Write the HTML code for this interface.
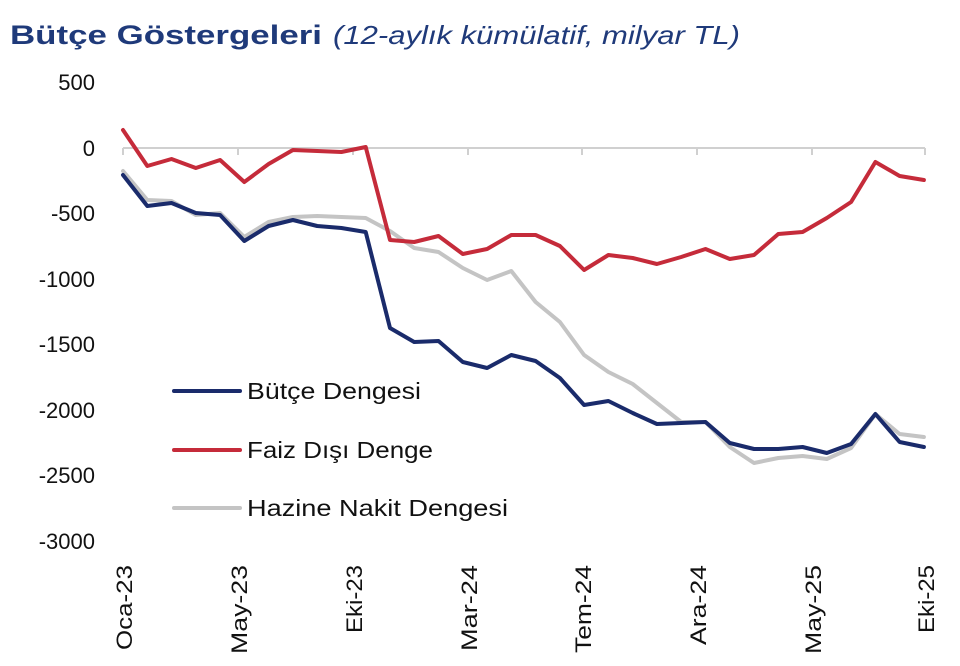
<!DOCTYPE html>
<html><head><meta charset="utf-8"><style>
body{margin:0;background:#fff;width:960px;height:661px;overflow:hidden;font-family:"Liberation Sans",sans-serif}
</style></head><body>
<svg width="960" height="661" xmlns="http://www.w3.org/2000/svg" font-family="Liberation Sans, sans-serif">
<text x="10" y="44" font-size="27" fill="#1f3a7a" font-weight="bold" textLength="312" lengthAdjust="spacingAndGlyphs">Bütçe Göstergeleri</text>
<text x="333" y="44" font-size="26" fill="#1f3a7a" font-style="italic" textLength="407" lengthAdjust="spacingAndGlyphs">(12-aylık kümülatif, milyar TL)</text>
<g font-size="22" fill="#111" text-anchor="end">
<text x="95" y="90">500</text><text x="95" y="156">0</text><text x="95" y="221">-500</text><text x="95" y="287">-1000</text><text x="95" y="352">-1500</text><text x="95" y="418">-2000</text><text x="95" y="483">-2500</text><text x="95" y="549">-3000</text>
</g>
<line x1="123" y1="148" x2="925" y2="148" stroke="#d0d0d0" stroke-width="2"/>
<g stroke="#d0d0d0" stroke-width="2">
<line x1="123" y1="148" x2="123" y2="155"/><line x1="238" y1="148" x2="238" y2="155"/><line x1="353" y1="148" x2="353" y2="155"/><line x1="468" y1="148" x2="468" y2="155"/><line x1="582" y1="148" x2="582" y2="155"/><line x1="697" y1="148" x2="697" y2="155"/><line x1="812" y1="148" x2="812" y2="155"/><line x1="925" y1="148" x2="925" y2="155"/>
</g>
<g font-size="22" fill="#111" text-anchor="end">
<text transform="translate(132,565) rotate(-90)" textLength="85" lengthAdjust="spacingAndGlyphs">Oca-23</text>
<text transform="translate(247,565) rotate(-90)" textLength="89" lengthAdjust="spacingAndGlyphs">May-23</text>
<text transform="translate(362,565) rotate(-90)" textLength="68" lengthAdjust="spacingAndGlyphs">Eki-23</text>
<text transform="translate(477,565) rotate(-90)" textLength="86" lengthAdjust="spacingAndGlyphs">Mar-24</text>
<text transform="translate(591,565) rotate(-90)" textLength="88" lengthAdjust="spacingAndGlyphs">Tem-24</text>
<text transform="translate(706,565) rotate(-90)" textLength="80" lengthAdjust="spacingAndGlyphs">Ara-24</text>
<text transform="translate(821,565) rotate(-90)" textLength="89" lengthAdjust="spacingAndGlyphs">May-25</text>
<text transform="translate(934,565) rotate(-90)" textLength="68" lengthAdjust="spacingAndGlyphs">Eki-25</text>
</g>
<g fill="none" stroke-width="4" stroke-linejoin="round" stroke-linecap="round">
<polyline id="g" stroke="#c4c4c4" points=""/>
<polyline id="n" stroke="#1a2b6b" points=""/>
<polyline id="r" stroke="#c52b3a" points=""/>
<line x1="174" y1="391" x2="240" y2="391" stroke="#1a2b6b"/>
<line x1="174" y1="450" x2="240" y2="450" stroke="#c52b3a"/>
<line x1="174" y1="508" x2="240" y2="508" stroke="#c4c4c4"/>
</g>
<g font-size="23" fill="#111">
<text x="247" y="399" textLength="174" lengthAdjust="spacingAndGlyphs">Bütçe Dengesi</text>
<text x="247" y="458" textLength="186" lengthAdjust="spacingAndGlyphs">Faiz Dışı Denge</text>
<text x="247" y="516" textLength="261" lengthAdjust="spacingAndGlyphs">Hazine Nakit Dengesi</text>
</g>
</svg>
<script>
var R=[130,166,159,168,160,182,164,150,151,152,147,240,242,236,254,249,235,235,246,270,255,258,264,257,249,259,255,234,232,218,202,162,176,180];
var N=[175,206,203,213,215,241,226,220,226,228,232,328,342,341,362,368,355,361,378,405,401,413,424,423,422,443,449,449,447,453,444,414,442,447];
var G=[171,200,201,215,213,237,222,217,216,217,218,231,248,252,268,280,271,302,322,355,372,384,403,422,422,447,463,458,456,459,448,414,434,437];
function p(a){return a.map(function(y,i){return (123+i*24.27).toFixed(1)+','+y}).join(' ')}
document.getElementById('r').setAttribute('points',p(R));
document.getElementById('n').setAttribute('points',p(N));
document.getElementById('g').setAttribute('points',p(G));
</script>
</body></html>
